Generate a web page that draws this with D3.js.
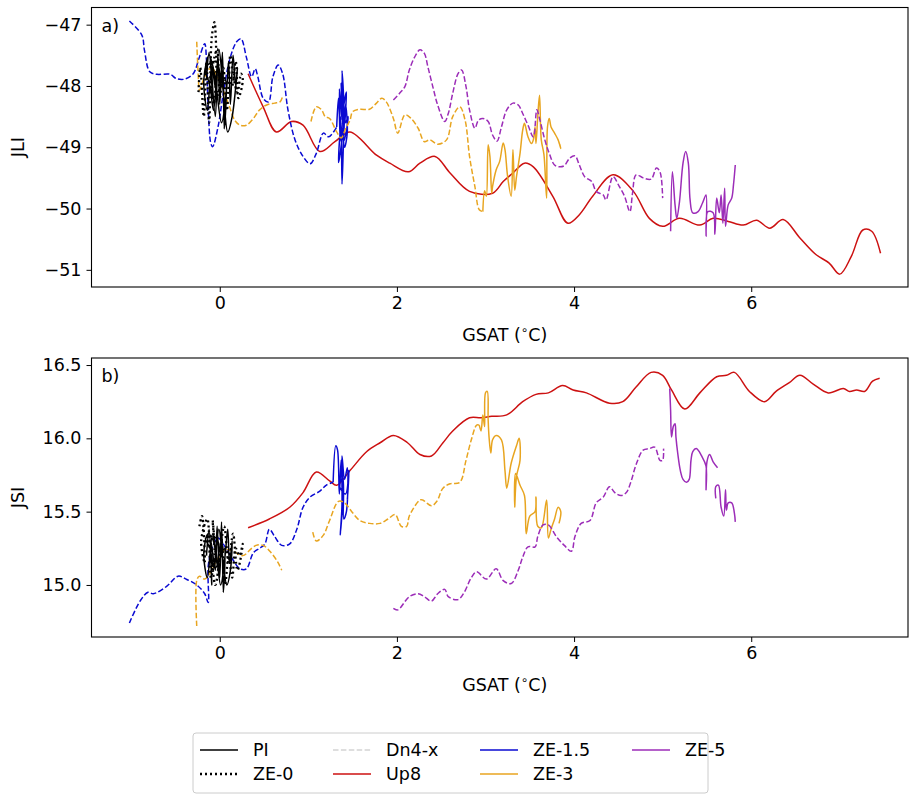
<!DOCTYPE html>
<html>
<head>
<meta charset="utf-8">
<script src="https://cdn.jsdelivr.net/npm/d3@7"></script>
<style>
body { margin: 0; background: #fff; }
svg text { font-family: "DejaVu Sans", sans-serif; fill: #000; }
</style>
</head>
<body>
<svg id="chart" width="909" height="795"></svg>
<script>
// ---- data: [GSAT, index] pairs; null = gap ----
var xTicks = [0, 2, 4, 6];
var jliTicks = [-47, -48, -49, -50, -51];
var jsiTicks = [15.0, 15.5, 16.0, 16.5];

var legendNames = ["PI", "ZE-0", "Dn4-x", "Up8", "ZE-1.5", "ZE-3", "ZE-5"];
var legendColors = ["#000000", "#000000", "#d3d3d3", "#cc1111", "#0a0ad2", "#e8a520", "#9c2db8"];
var legendDash = ["solid", "dot", "dash", "solid", "solid", "solid", "solid"];

var up8Jli = [[0.32,-47.80],[0.49,-48.34],[0.64,-48.75],[0.81,-48.58],[0.94,-48.64],[1.13,-49.07],[1.30,-48.91],[1.47,-48.75],[1.77,-49.13],[1.92,-49.26],[2.13,-49.40],[2.26,-49.26],[2.43,-49.15],[2.60,-49.42],[2.82,-49.72],[3.08,-49.75],[3.20,-49.56],[3.31,-49.42],[3.44,-49.26],[3.54,-49.32],[3.76,-49.80],[3.93,-50.24],[4.06,-50.10],[4.21,-49.80],[4.44,-49.45],[4.67,-49.72],[4.85,-50.16],[5.00,-50.29],[5.19,-50.16],[5.42,-50.27],[5.57,-50.16],[5.74,-50.21],[5.91,-50.27],[6.06,-50.19],[6.21,-50.32],[6.36,-50.18],[6.55,-50.48],[6.73,-50.75],[6.88,-50.89],[7.00,-51.07],[7.13,-50.78],[7.26,-50.35],[7.36,-50.37],[7.46,-50.73]];
var up8Jsi = [[0.32,15.39],[0.56,15.45],[0.79,15.53],[0.94,15.63],[1.09,15.77],[1.24,15.71],[1.32,15.68],[1.47,15.78],[1.66,15.91],[1.81,15.97],[1.96,16.02],[2.12,15.97],[2.26,15.89],[2.39,15.88],[2.52,15.97],[2.63,16.05],[2.82,16.14],[2.95,16.14],[3.07,16.15],[3.24,16.16],[3.42,16.25],[3.57,16.30],[3.71,16.31],[3.87,16.36],[3.99,16.33],[4.14,16.31],[4.40,16.24],[4.55,16.25],[4.70,16.35],[4.87,16.45],[5.00,16.43],[5.10,16.33],[5.25,16.20],[5.42,16.31],[5.61,16.42],[5.72,16.43],[5.81,16.45],[5.98,16.32],[6.15,16.25],[6.28,16.32],[6.43,16.38],[6.55,16.43],[6.70,16.37],[6.87,16.31],[7.04,16.34],[7.11,16.32],[7.19,16.33],[7.28,16.32],[7.37,16.39],[7.45,16.41]];

var ze15RampJli = [[-1.02,-46.94],[-0.88,-47.17],[-0.85,-47.42],[-0.79,-47.77],[-0.71,-47.81],[-0.56,-47.81],[-0.49,-47.88],[-0.40,-47.89],[-0.30,-47.80],[-0.23,-47.53],[-0.17,-47.31],[-0.15,-47.58],[-0.13,-48.39],[-0.10,-48.94],[-0.08,-48.99],[-0.02,-48.67],[0.04,-48.12],[0.11,-47.58],[0.19,-47.28],[0.24,-47.23],[0.30,-47.53],[0.36,-47.85],[0.40,-47.72],[0.43,-47.85],[0.49,-48.20],[0.55,-48.26],[0.60,-47.85],[0.66,-47.66],[0.71,-47.80],[0.77,-48.39],[0.85,-48.88],[0.94,-49.15],[1.02,-49.27],[1.09,-49.10],[1.17,-48.77],[1.23,-48.83],[1.32,-48.67]];
var ze15Jli = [[1.32,-48.67],[1.34,-48.2],[1.36,-48.9],[1.35,-48.05],[1.38,-48.55],[1.37,-47.95],[1.39,-48.7],[1.38,-47.75],[1.40,-48.4],[1.36,-49.1],[1.34,-49.25],[1.37,-48.6],[1.38,-49.6],[1.40,-48.8],[1.42,-48.3],[1.44,-48.75],[1.41,-49.0],[1.39,-48.45],[1.43,-48.1],[1.42,-48.6],[1.45,-48.5],[1.40,-48.9],[1.36,-48.5]];
var ze15RampJsi = [[-1.02,14.74],[-0.90,14.89],[-0.81,14.95],[-0.75,14.94],[-0.60,14.99],[-0.47,15.06],[-0.38,15.04],[-0.26,15.00],[-0.17,14.94],[-0.13,14.88],[-0.13,15.13],[-0.08,15.26],[-0.02,15.32],[0.06,15.26],[0.15,15.17],[0.23,15.11],[0.30,15.11],[0.38,15.22],[0.45,15.25],[0.51,15.28],[0.56,15.38],[0.62,15.33],[0.70,15.27],[0.79,15.28],[0.87,15.38],[0.94,15.53],[1.02,15.60],[1.13,15.64],[1.20,15.68],[1.28,15.70]];
var ze15Jsi = [[1.28,15.70],[1.31,15.95],[1.33,15.92],[1.35,15.62],[1.37,15.85],[1.38,15.55],[1.36,15.34],[1.39,15.6],[1.38,15.88],[1.41,15.72],[1.44,15.80],[1.43,15.50],[1.40,15.45],[1.39,15.73],[1.35,15.68],[1.42,15.62],[1.46,15.78],[1.44,15.58]];

var ze3RampJli = [[-0.26,-47.28],[-0.24,-47.91],[-0.23,-48.07],[-0.17,-47.85],[-0.09,-47.69],[-0.04,-47.82],[0.04,-48.07],[0.11,-48.34],[0.17,-48.56],[0.23,-48.64],[0.30,-48.64],[0.38,-48.53],[0.45,-48.39],[0.53,-48.31],[0.62,-48.28],[0.68,-48.26],[0.71,-48.17],null,[1.03,-48.58],[1.09,-48.34],[1.15,-48.39],[1.19,-48.50],[1.24,-48.53],[1.32,-48.75],[1.37,-48.85],[1.42,-48.7],[1.47,-48.56],[1.50,-48.42],[1.58,-48.38],[1.69,-48.38],[1.77,-48.28],[1.83,-48.20],[1.88,-48.26],[1.96,-48.53],[2.01,-48.77],[2.09,-48.47],[2.16,-48.53],[2.24,-48.69],[2.31,-48.91],[2.37,-48.88],[2.46,-48.95],[2.56,-48.88],[2.63,-48.50],[2.71,-48.34],[2.77,-48.56],[2.82,-49.15],[2.88,-49.64],[2.93,-50.02],[2.97,-50.05]];
var ze3Jli = [[2.97,-50.05],[2.99,-49.71],[3.01,-49.80],[3.03,-48.96],[3.05,-49.15],[3.07,-49.75],[3.08,-49.64],[3.12,-49.37],[3.16,-49.23],[3.20,-48.93],[3.22,-49.04],[3.25,-49.48],[3.29,-49.80],[3.31,-49.04],[3.33,-49.70],[3.35,-49.48],[3.39,-49.10],[3.42,-48.72],[3.44,-48.61],[3.48,-48.83],[3.52,-48.94],[3.54,-48.88],[3.56,-48.67],[3.57,-48.94],[3.59,-48.50],[3.61,-48.15],[3.63,-48.88],[3.66,-49.12],[3.69,-49.83],[3.70,-48.67],[3.72,-48.53],[3.74,-48.67],[3.78,-48.77],[3.82,-48.88],[3.85,-49.02],[3.84,-48.96]];
var ze3RampJsi = [[-0.26,14.72],[-0.26,15.03],[-0.23,15.06],[-0.17,15.04],[-0.11,15.08],[-0.04,15.16],[0.06,15.24],[0.15,15.23],[0.26,15.20],[0.36,15.25],[0.41,15.27],[0.49,15.27],[0.58,15.22],[0.66,15.15],[0.70,15.10],null,[1.05,15.36],[1.09,15.30],[1.17,15.34],[1.24,15.44],[1.34,15.57],[1.41,15.56],[1.49,15.50],[1.58,15.44],[1.69,15.42],[1.81,15.42],[1.90,15.45],[1.98,15.48],[2.05,15.40],[2.11,15.40],[2.14,15.47],[2.26,15.58],[2.29,15.58],[2.39,15.54],[2.45,15.57],[2.52,15.66],[2.60,15.69],[2.71,15.70],[2.78,15.85],[2.84,15.99],[2.90,16.09],[2.93,16.09]];
var ze3Jsi = [[2.93,16.09],[2.95,16.05],[2.97,16.16],[2.99,16.08],[3.00,16.31],[3.02,16.32],[3.03,16.13],[3.04,16.01],[3.06,15.90],[3.08,15.99],[3.12,16.02],[3.18,15.99],[3.22,15.78],[3.24,15.66],[3.29,15.83],[3.35,15.95],[3.38,16.00],[3.39,15.85],[3.35,15.74],[3.33,15.53],[3.34,15.76],[3.39,15.68],[3.44,15.61],[3.46,15.35],[3.50,15.47],[3.56,15.50],[3.57,15.60],[3.59,15.40],[3.63,15.39],[3.69,15.58],[3.71,15.32],[3.74,15.38],[3.78,15.45],[3.82,15.53],[3.85,15.50],[3.83,15.42]];

var ze5RampJli = [[1.96,-48.23],[2.03,-48.12],[2.09,-48.01],[2.14,-47.74],[2.20,-47.53],[2.26,-47.41],[2.31,-47.47],[2.35,-47.69],[2.41,-48.04],[2.46,-48.31],[2.54,-48.58],[2.58,-48.45],[2.63,-48.12],[2.69,-47.80],[2.73,-47.74],[2.78,-48.01],[2.82,-48.39],[2.88,-48.69],[2.92,-48.56],[2.97,-48.53],[3.03,-48.58],[3.08,-48.80],[3.13,-48.90],[3.18,-48.67],[3.24,-48.39],[3.31,-48.28],[3.37,-48.31],[3.42,-48.45],[3.48,-48.64],[3.54,-48.83],[3.58,-48.39],[3.61,-48.53],[3.67,-48.88],[3.72,-49.10],[3.78,-49.29],[3.84,-49.32],[3.89,-49.30],[3.95,-49.18],[4.01,-49.14],[4.06,-49.29],[4.12,-49.48],[4.20,-49.56],[4.25,-49.72],[4.33,-49.78],[4.36,-49.86],[4.44,-49.48],[4.51,-49.64],[4.57,-49.80],[4.63,-50.05],[4.66,-49.75],[4.70,-49.45],[4.78,-49.50],[4.87,-49.52],[4.93,-49.34],[4.97,-49.40],[5.00,-49.83]];
var ze5Jli = [[5.09,-50.37],[5.11,-49.40],[5.14,-49.94],[5.16,-50.16],[5.19,-49.89],[5.23,-49.26],[5.26,-49.07],[5.29,-49.26],[5.31,-49.86],[5.34,-50.07],[5.40,-50.05],[5.45,-49.91],[5.49,-49.78],[5.49,-50.45],[5.51,-50.05],[5.57,-50.07],[5.59,-50.42],[5.61,-49.83],[5.64,-50.07],[5.66,-49.78],[5.68,-50.24],[5.70,-49.67],[5.71,-50.29],[5.74,-49.94],[5.78,-49.83],[5.80,-49.61],[5.82,-49.29]];
var ze5RampJsi = [[1.96,14.84],[2.01,14.83],[2.14,14.92],[2.24,14.94],[2.31,14.92],[2.39,14.89],[2.46,14.94],[2.54,14.97],[2.58,14.92],[2.69,14.90],[2.76,14.95],[2.84,15.05],[2.90,15.09],[3.01,15.04],[3.12,15.11],[3.20,15.03],[3.29,15.01],[3.37,15.10],[3.42,15.19],[3.48,15.26],[3.56,15.26],[3.59,15.33],[3.65,15.41],[3.71,15.41],[3.80,15.33],[3.89,15.27],[3.97,15.23],[4.01,15.33],[4.08,15.42],[4.18,15.44],[4.25,15.56],[4.33,15.60],[4.40,15.67],[4.46,15.63],[4.53,15.61],[4.59,15.63],[4.64,15.70],[4.70,15.82],[4.78,15.92],[4.85,15.93],[4.91,15.94],[4.97,15.85],[5.00,15.85],[5.01,15.93]];
var ze5Jsi = [[5.08,16.34],[5.09,16.19],[5.10,16.01],[5.12,16.08],[5.14,16.10],[5.15,16.01],[5.17,15.90],[5.20,15.78],[5.23,15.72],[5.27,15.70],[5.30,15.72],[5.32,15.85],[5.34,15.91],[5.38,15.93],[5.44,15.88],[5.49,15.81],[5.49,15.65],[5.50,15.84],[5.53,15.89],[5.57,15.84],[5.62,15.80],null,[5.60,15.59],[5.60,15.67],[5.63,15.68],[5.66,15.53],[5.69,15.47],[5.71,15.65],[5.72,15.51],[5.74,15.56],[5.78,15.56],[5.81,15.49],[5.82,15.43]];

var piJli = [[-0.15,-47.9],[-0.12,-47.45],[-0.08,-48.2],[-0.10,-47.6],[-0.05,-48.5],[-0.02,-47.5],[0.00,-48.3],[0.03,-47.45],[0.05,-48.7],[0.06,-47.9],[-0.03,-48.1],[-0.09,-47.7],[-0.14,-48.4],[-0.18,-47.9],[-0.12,-47.5],[-0.06,-47.8],[0.02,-48.6],[0.08,-48.0],[0.10,-47.6],[0.12,-48.3],[0.15,-47.5],[0.18,-48.0],[0.20,-47.7],[0.14,-48.5],[0.09,-48.75],[0.04,-48.1],[-0.01,-47.4],[-0.07,-48.4],[-0.11,-48.0],[-0.16,-47.7],[-0.04,-47.6],[0.01,-48.0]];
var piJsi = [[-0.15,15.2],[-0.12,15.38],[-0.09,15.0],[-0.10,15.3],[-0.05,15.1],[-0.03,15.4],[0.00,15.05],[0.02,15.43],[0.04,14.95],[0.05,15.25],[-0.02,15.15],[-0.08,15.35],[-0.14,15.05],[-0.18,15.22],[-0.13,15.35],[-0.06,15.28],[0.01,15.0],[0.06,15.2],[0.09,15.38],[0.11,15.15],[0.14,15.3],[0.12,15.1],[0.08,15.0],[0.03,15.2],[-0.01,15.38],[-0.07,15.12],[-0.11,15.25],[-0.16,15.32],[-0.04,15.32],[0.00,15.22]];
var ze0Jli = [[-0.24,-48.1],[-0.22,-47.7],[-0.18,-48.5],[-0.15,-47.6],[-0.12,-48.6],[-0.09,-47.2],[-0.06,-46.96],[-0.04,-47.8],[-0.07,-48.3],[-0.10,-47.9],[-0.03,-47.4],[0.00,-48.2],[0.04,-47.7],[0.08,-48.4],[0.12,-47.5],[0.16,-47.9],[0.20,-48.1],[0.24,-47.8],[0.26,-47.9],[0.21,-48.2],[0.18,-47.6],[0.14,-48.0],[0.10,-47.7]];
var ze0Jsi = [[-0.23,15.4],[-0.20,15.47],[-0.17,15.15],[-0.21,15.3],[-0.14,15.45],[-0.10,15.05],[-0.06,15.2],[-0.08,15.44],[-0.02,15.1],[0.02,15.3],[0.06,15.0],[0.10,15.2],[0.14,15.05],[0.18,15.25],[0.22,15.2],[0.26,15.28],[0.20,15.1],[0.15,15.35],[0.10,15.15],[0.05,15.4],[0.00,15.2],[-0.05,15.0],[-0.12,15.3],[-0.16,15.35]];

// ---- layout ----
var svg = d3.select("#chart");
var left = 91.5, right = 908;
var fs = 17.5;
var dashes = { solid: null, dash: "5.5,2.4", dot: "2,3" };

var x = d3.scaleLinear().domain([-1.448, 7.77]).range([left, right]);

function panel (top, bottom, yDomain, yTicks, yFmt, yLabel, tag, layers) {
  var y = d3.scaleLinear().domain(yDomain).range([bottom, top]);
  var g = svg.append("g");

  var line = d3.line()
    .defined(function (d) { return d; })
    .x(function (d) { return x(d[0]); })
    .y(function (d) { return y(d[1]); })
    .curve(d3.curveCatmullRom.alpha(0.5));

  var clip = "clip" + tag;
  g.append("clipPath").attr("id", clip).append("rect")
    .attr("x", left).attr("y", top).attr("width", right - left).attr("height", bottom - top);

  g.append("g").attr("clip-path", "url(#" + clip + ")")
    .selectAll("path").data(layers).enter().append("path")
    .attr("d", function (l) { return line(l.data); })
    .attr("fill", "none")
    .attr("stroke", function (l) { return l.color; })
    .attr("stroke-width", function (l) { return l.dash === "dot" ? 2.3 : 1.5; })
    .attr("stroke-dasharray", function (l) { return dashes[l.dash]; })
    .attr("stroke-linejoin", "round");

  var xAxis = g.append("g").attr("transform", "translate(0," + bottom + ")")
    .call(d3.axisBottom(x).tickValues(xTicks).tickSize(5).tickPadding(5).tickFormat(d3.format("d")));
  var yAxis = g.append("g").attr("transform", "translate(" + left + ",0)")
    .call(d3.axisLeft(y).tickValues(yTicks).tickSize(5).tickPadding(5).tickFormat(d3.format(yFmt)));
  [xAxis, yAxis].forEach(function (a) {
    a.select(".domain").remove();
    a.selectAll("line").attr("stroke", "#000").attr("stroke-width", 1);
    a.selectAll("text").attr("font-size", fs).attr("font-family", "DejaVu Sans").attr("fill", "#000");
  });

  g.append("rect").attr("x", left).attr("y", top).attr("width", right - left).attr("height", bottom - top)
    .attr("fill", "none").attr("stroke", "#000").attr("stroke-width", 1.1);

  var xl = g.append("text").attr("x", (left + right) / 2 + 5).attr("y", bottom + 54)
    .attr("text-anchor", "middle").attr("font-size", fs);
  xl.append("tspan").text("GSAT (");
  xl.append("tspan").attr("font-size", 12).attr("dy", -7).text("\u2218");
  xl.append("tspan").attr("dy", 7).text("C)");

  g.append("text").attr("transform", "translate(24," + ((top + bottom) / 2) + ") rotate(-90)")
    .attr("text-anchor", "middle").attr("font-size", fs).text(yLabel);

  g.append("text").attr("x", left + 10).attr("y", top + 24).attr("font-size", fs).text(tag + ")");
}

function layersFor (up8, r15, s15, r3, s3, r5, s5, pi, ze0) {
  return [
    { data: up8, color: legendColors[3], dash: "solid" },
    { data: r15, color: legendColors[4], dash: "dash" },
    { data: s15, color: legendColors[4], dash: "solid" },
    { data: r3, color: legendColors[5], dash: "dash" },
    { data: s3, color: legendColors[5], dash: "solid" },
    { data: r5, color: legendColors[6], dash: "dash" },
    { data: s5, color: legendColors[6], dash: "solid" },
    { data: pi, color: legendColors[0], dash: "solid" },
    { data: ze0, color: legendColors[1], dash: "dot" }
  ];
}

panel(7.5, 287, [-51.28, -46.72], jliTicks, "d", "JLI", "a",
  layersFor(up8Jli, ze15RampJli, ze15Jli, ze3RampJli, ze3Jli, ze5RampJli, ze5Jli, piJli, ze0Jli));
panel(358, 637, [14.645, 16.548], jsiTicks, ".1f", "JSI", "b",
  layersFor(up8Jsi, ze15RampJsi, ze15Jsi, ze3RampJsi, ze3Jsi, ze5RampJsi, ze5Jsi, piJsi, ze0Jsi));

// ---- legend ----
var lg = svg.append("g").attr("transform", "translate(193,733)");
lg.append("rect").attr("width", 515).attr("height", 60).attr("rx", 3)
  .attr("fill", "#fff").attr("stroke", "#cccccc").attr("stroke-width", 1);
var colX = [7, 140, 287, 439];
var item = lg.selectAll("g.item").data(legendNames).enter().append("g")
  .attr("transform", function (d, i) {
    return "translate(" + colX[Math.floor(i / 2)] + "," + (i % 2 === 0 ? 17 : 41) + ")";
  });
item.append("line").attr("x1", 0).attr("x2", 38)
  .attr("stroke", function (d, i) { return legendColors[i]; })
  .attr("stroke-width", function (d, i) { return legendDash[i] === "dot" ? 2.3 : 1.5; })
  .attr("stroke-dasharray", function (d, i) { return dashes[legendDash[i]]; });
item.append("text").attr("x", 53).attr("dy", "0.35em").attr("font-size", fs).text(function (d) { return d; });
</script>
</body>
</html>
